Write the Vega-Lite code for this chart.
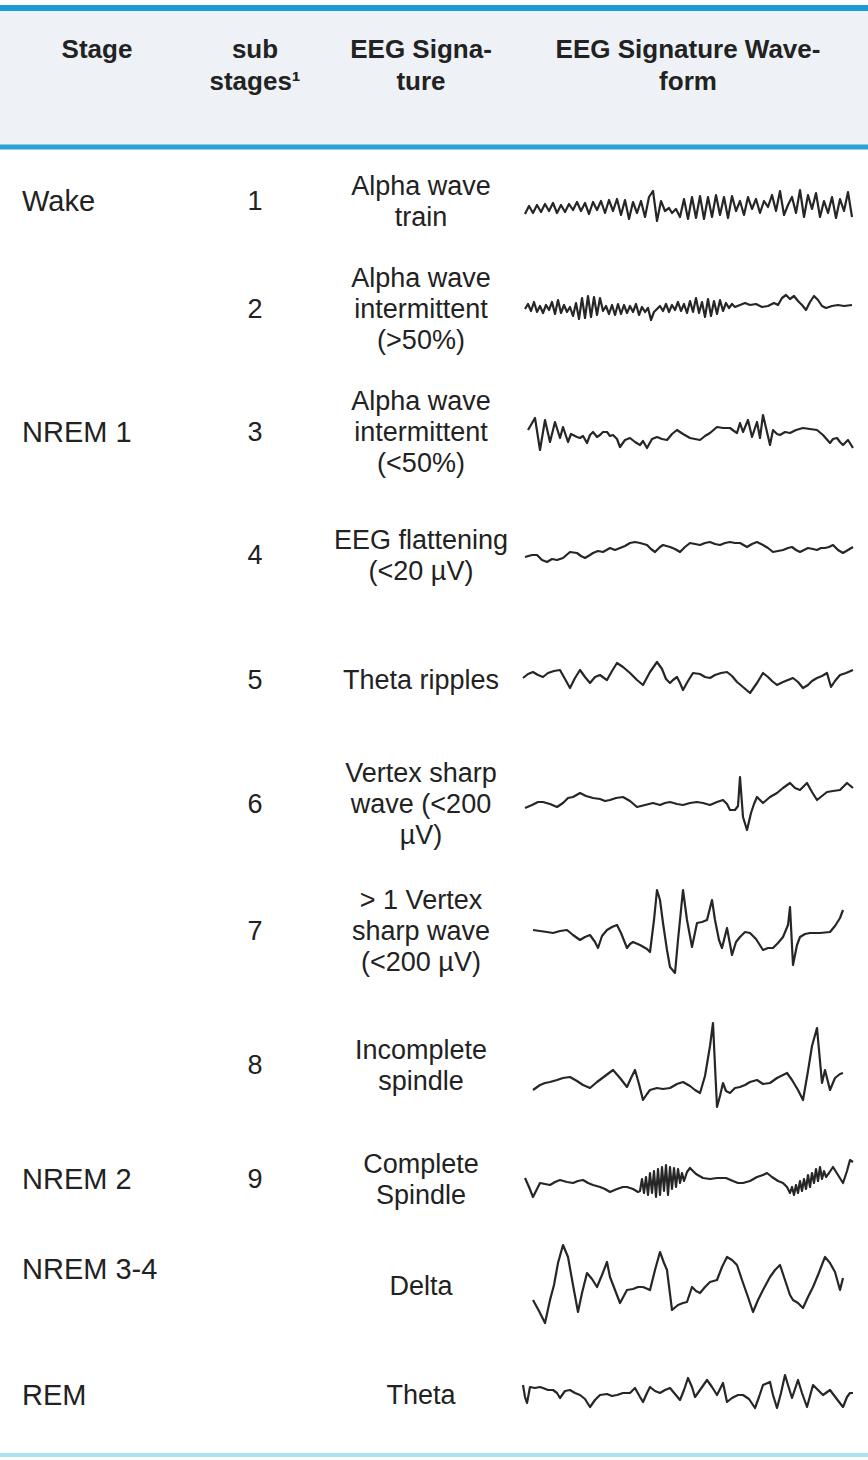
{
"$schema":"https://vega.github.io/schema/vega-lite/v6.json",
"width":868,"height":1460,"autosize":{"type":"none"},"padding":0,"background":"white",
"config":{"view":{"stroke":null},"text":{"font":"Liberation Sans","color":"#222222"}},
"resolve":{"scale":{"x":"independent","y":"independent"}},
"datasets":{
"band":[{"top":-3,"bottom":-1}],
"lines":[{"kind":"top","row":-3},{"kind":"head","row":-1},{"kind":"bottom","row":12}],
"cells":[
{"part":"head","col":0,"row":-2,"text":["Stage"]},
{"part":"head","col":1,"row":-2,"text":["sub","stages¹"]},
{"part":"head","col":2,"row":-2,"text":["EEG Signa-","ture"]},
{"part":"head","col":3,"row":-2,"text":["EEG Signature Wave-","form"]},
{"part":"stage","col":0,"row":1,"text":["Wake"]},
{"part":"stage","col":0,"row":3,"text":["NREM 1"]},
{"part":"stage","col":0,"row":9,"text":["NREM 2"]},
{"part":"stage2","col":0,"row":10,"text":["NREM 3-4"]},
{"part":"stage","col":0,"row":11,"text":["REM"]},
{"part":"sub","col":1,"row":1,"text":["1"]},
{"part":"sub","col":1,"row":2,"text":["2"]},
{"part":"sub","col":1,"row":3,"text":["3"]},
{"part":"sub","col":1,"row":4,"text":["4"]},
{"part":"sub","col":1,"row":5,"text":["5"]},
{"part":"sub","col":1,"row":6,"text":["6"]},
{"part":"sub","col":1,"row":7,"text":["7"]},
{"part":"sub","col":1,"row":8,"text":["8"]},
{"part":"sub","col":1,"row":9,"text":["9"]},
{"part":"sig","col":2,"row":1,"text":["Alpha wave","train"]},
{"part":"sig","col":2,"row":2,"text":["Alpha wave","intermittent","(>50%)"]},
{"part":"sig","col":2,"row":3,"text":["Alpha wave","intermittent","(<50%)"]},
{"part":"sig","col":2,"row":4,"text":["EEG flattening","(<20 µV)"]},
{"part":"sig","col":2,"row":5,"text":["Theta ripples"]},
{"part":"sig","col":2,"row":6,"text":["Vertex sharp","wave (<200","µV)"]},
{"part":"sig","col":2,"row":7,"text":["> 1 Vertex","sharp wave","(<200 µV)"]},
{"part":"sig","col":2,"row":8,"text":["Incomplete","spindle"]},
{"part":"sig","col":2,"row":9,"text":["Complete","Spindle"]},
{"part":"sig","col":2,"row":10,"text":["Delta"]},
{"part":"sig","col":2,"row":11,"text":["Theta"]}
],
"wave":[
{"w":1,"t":5,"v":-9},{"w":1,"t":9,"v":-1},{"w":1,"t":13,"v":-8},{"w":1,"t":17,"v":0},{"w":1,"t":21,"v":-7},{"w":1,"t":25,"v":1},{"w":1,"t":29,"v":-6},{"w":1,"t":33,"v":2},{"w":1,"t":37,"v":-8},{"w":1,"t":41,"v":0},{"w":1,"t":45,"v":-7},{"w":1,"t":49,"v":1},{"w":1,"t":53,"v":-5},{"w":1,"t":57,"v":3},{"w":1,"t":61,"v":-6},{"w":1,"t":65,"v":2},{"w":1,"t":69,"v":-9},{"w":1,"t":73,"v":3},{"w":1,"t":77,"v":-5},{"w":1,"t":81,"v":4},{"w":1,"t":85,"v":-8},{"w":1,"t":89,"v":5},{"w":1,"t":93,"v":-6},{"w":1,"t":97,"v":6},{"w":1,"t":101,"v":-10},{"w":1,"t":105,"v":5},{"w":1,"t":109,"v":-14},{"w":1,"t":113,"v":3},{"w":1,"t":117,"v":-8},{"w":1,"t":121,"v":4},{"w":1,"t":125,"v":-12},{"w":1,"t":129,"v":8},{"w":1,"t":133,"v":14},{"w":1,"t":137,"v":-16},{"w":1,"t":141,"v":4},{"w":1,"t":145,"v":-6},{"w":1,"t":149,"v":-3},{"w":1,"t":152,"v":-8},{"w":1,"t":156,"v":-4},{"w":1,"t":160,"v":-12},{"w":1,"t":164,"v":6},{"w":1,"t":168,"v":-14},{"w":1,"t":172,"v":8},{"w":1,"t":176,"v":-13},{"w":1,"t":180,"v":9},{"w":1,"t":184,"v":-14},{"w":1,"t":188,"v":8},{"w":1,"t":192,"v":-12},{"w":1,"t":196,"v":10},{"w":1,"t":200,"v":-10},{"w":1,"t":204,"v":8},{"w":1,"t":208,"v":-13},{"w":1,"t":212,"v":9},{"w":1,"t":216,"v":-6},{"w":1,"t":220,"v":4},{"w":1,"t":224,"v":-10},{"w":1,"t":228,"v":8},{"w":1,"t":232,"v":-4},{"w":1,"t":236,"v":6},{"w":1,"t":240,"v":-8},{"w":1,"t":244,"v":4},{"w":1,"t":248,"v":-2},{"w":1,"t":252,"v":10},{"w":1,"t":256,"v":-6},{"w":1,"t":260,"v":14},{"w":1,"t":264,"v":-10},{"w":1,"t":268,"v":0},{"w":1,"t":272,"v":8},{"w":1,"t":276,"v":-8},{"w":1,"t":280,"v":15},{"w":1,"t":284,"v":-12},{"w":1,"t":288,"v":10},{"w":1,"t":292,"v":-4},{"w":1,"t":296,"v":12},{"w":1,"t":300,"v":-12},{"w":1,"t":304,"v":4},{"w":1,"t":308,"v":-8},{"w":1,"t":312,"v":8},{"w":1,"t":316,"v":-13},{"w":1,"t":320,"v":6},{"w":1,"t":324,"v":-6},{"w":1,"t":328,"v":13},{"w":1,"t":332,"v":-12},
{"w":2,"t":5,"v":-1},{"w":2,"t":8,"v":4},{"w":2,"t":11,"v":-3},{"w":2,"t":14,"v":6},{"w":2,"t":17,"v":-4},{"w":2,"t":20,"v":2},{"w":2,"t":23,"v":-5},{"w":2,"t":26,"v":3},{"w":2,"t":29,"v":-2},{"w":2,"t":32,"v":6},{"w":2,"t":35,"v":-6},{"w":2,"t":38,"v":8},{"w":2,"t":41,"v":-5},{"w":2,"t":44,"v":3},{"w":2,"t":47,"v":-4},{"w":2,"t":50,"v":1},{"w":2,"t":53,"v":-8},{"w":2,"t":56,"v":5},{"w":2,"t":59,"v":-11},{"w":2,"t":62,"v":10},{"w":2,"t":65,"v":-10},{"w":2,"t":68,"v":12},{"w":2,"t":71,"v":-9},{"w":2,"t":74,"v":11},{"w":2,"t":77,"v":-7},{"w":2,"t":80,"v":10},{"w":2,"t":83,"v":-3},{"w":2,"t":86,"v":2},{"w":2,"t":89,"v":-6},{"w":2,"t":92,"v":3},{"w":2,"t":95,"v":-7},{"w":2,"t":98,"v":4},{"w":2,"t":101,"v":-6},{"w":2,"t":104,"v":3},{"w":2,"t":107,"v":-5},{"w":2,"t":110,"v":2},{"w":2,"t":113,"v":-4},{"w":2,"t":116,"v":4},{"w":2,"t":119,"v":-7},{"w":2,"t":122,"v":1},{"w":2,"t":125,"v":-4},{"w":2,"t":128,"v":0},{"w":2,"t":131,"v":-12},{"w":2,"t":134,"v":-4},{"w":2,"t":137,"v":-1},{"w":2,"t":140,"v":2},{"w":2,"t":143,"v":-3},{"w":2,"t":146,"v":4},{"w":2,"t":149,"v":-4},{"w":2,"t":152,"v":3},{"w":2,"t":155,"v":-2},{"w":2,"t":158,"v":6},{"w":2,"t":161,"v":-3},{"w":2,"t":164,"v":4},{"w":2,"t":167,"v":-5},{"w":2,"t":170,"v":7},{"w":2,"t":173,"v":-4},{"w":2,"t":176,"v":10},{"w":2,"t":179,"v":-5},{"w":2,"t":182,"v":6},{"w":2,"t":185,"v":-9},{"w":2,"t":188,"v":9},{"w":2,"t":191,"v":-8},{"w":2,"t":194,"v":7},{"w":2,"t":197,"v":-6},{"w":2,"t":200,"v":8},{"w":2,"t":203,"v":-3},{"w":2,"t":206,"v":5},{"w":2,"t":209,"v":0},{"w":2,"t":212,"v":4},{"w":2,"t":215,"v":1},{"w":2,"t":220,"v":3},{"w":2,"t":225,"v":5},{"w":2,"t":230,"v":3},{"w":2,"t":236,"v":4},{"w":2,"t":242,"v":1},{"w":2,"t":248,"v":2},{"w":2,"t":254,"v":5},{"w":2,"t":258,"v":3},{"w":2,"t":262,"v":10},{"w":2,"t":266,"v":13},{"w":2,"t":270,"v":9},{"w":2,"t":274,"v":12},{"w":2,"t":278,"v":7},{"w":2,"t":282,"v":3},{"w":2,"t":286,"v":-2},{"w":2,"t":290,"v":6},{"w":2,"t":294,"v":12},{"w":2,"t":298,"v":8},{"w":2,"t":302,"v":2},{"w":2,"t":306,"v":0},{"w":2,"t":312,"v":2},{"w":2,"t":318,"v":3},{"w":2,"t":324,"v":2},{"w":2,"t":332,"v":3},
{"w":3,"t":8,"v":3},{"w":3,"t":15,"v":15},{"w":3,"t":20,"v":-17},{"w":3,"t":25,"v":13},{"w":3,"t":30,"v":-9},{"w":3,"t":35,"v":11},{"w":3,"t":40,"v":-5},{"w":3,"t":43,"v":6},{"w":3,"t":48,"v":-9},{"w":3,"t":51,"v":-1},{"w":3,"t":53,"v":-2},{"w":3,"t":57,"v":-4},{"w":3,"t":60,"v":-5},{"w":3,"t":63,"v":-3},{"w":3,"t":67,"v":-10},{"w":3,"t":70,"v":-2},{"w":3,"t":73,"v":1},{"w":3,"t":77,"v":-4},{"w":3,"t":80,"v":-2},{"w":3,"t":83,"v":1},{"w":3,"t":87,"v":1},{"w":3,"t":90,"v":-3},{"w":3,"t":93,"v":-2},{"w":3,"t":97,"v":-6},{"w":3,"t":100,"v":-14},{"w":3,"t":105,"v":-7},{"w":3,"t":110,"v":-5},{"w":3,"t":115,"v":-9},{"w":3,"t":120,"v":-12},{"w":3,"t":123,"v":-8},{"w":3,"t":127,"v":-15},{"w":3,"t":132,"v":-6},{"w":3,"t":137,"v":-4},{"w":3,"t":142,"v":-6},{"w":3,"t":147,"v":-7},{"w":3,"t":152,"v":-1},{"w":3,"t":157,"v":3},{"w":3,"t":163,"v":-1},{"w":3,"t":170,"v":-5},{"w":3,"t":175,"v":-6},{"w":3,"t":180,"v":-7},{"w":3,"t":185,"v":-3},{"w":3,"t":190,"v":0},{"w":3,"t":197,"v":6},{"w":3,"t":203,"v":5},{"w":3,"t":210,"v":5},{"w":3,"t":214,"v":2},{"w":3,"t":217,"v":0},{"w":3,"t":220,"v":10},{"w":3,"t":223,"v":1},{"w":3,"t":228,"v":13},{"w":3,"t":232,"v":-4},{"w":3,"t":237,"v":11},{"w":3,"t":240,"v":-5},{"w":3,"t":243,"v":18},{"w":3,"t":247,"v":1},{"w":3,"t":250,"v":-12},{"w":3,"t":253,"v":3},{"w":3,"t":257,"v":-1},{"w":3,"t":260,"v":-2},{"w":3,"t":265,"v":1},{"w":3,"t":270,"v":0},{"w":3,"t":276,"v":3},{"w":3,"t":283,"v":5},{"w":3,"t":290,"v":4},{"w":3,"t":297,"v":3},{"w":3,"t":303,"v":-2},{"w":3,"t":310,"v":-10},{"w":3,"t":313,"v":-6},{"w":3,"t":317,"v":-5},{"w":3,"t":320,"v":-9},{"w":3,"t":323,"v":-12},{"w":3,"t":328,"v":-7},{"w":3,"t":333,"v":-15},
{"w":4,"t":5,"v":-5},{"w":4,"t":12,"v":-3},{"w":4,"t":17,"v":-3},{"w":4,"t":22,"v":-8},{"w":4,"t":27,"v":-10},{"w":4,"t":32,"v":-7},{"w":4,"t":37,"v":-8},{"w":4,"t":43,"v":-6},{"w":4,"t":50,"v":0},{"w":4,"t":57,"v":-1},{"w":4,"t":61,"v":-4},{"w":4,"t":65,"v":-6},{"w":4,"t":70,"v":-3},{"w":4,"t":73,"v":-1},{"w":4,"t":78,"v":1},{"w":4,"t":83,"v":0},{"w":4,"t":90,"v":4},{"w":4,"t":95,"v":2},{"w":4,"t":100,"v":4},{"w":4,"t":105,"v":6},{"w":4,"t":110,"v":9},{"w":4,"t":115,"v":10},{"w":4,"t":120,"v":9},{"w":4,"t":127,"v":7},{"w":4,"t":131,"v":3},{"w":4,"t":135,"v":0},{"w":4,"t":140,"v":5},{"w":4,"t":143,"v":7},{"w":4,"t":150,"v":5},{"w":4,"t":155,"v":3},{"w":4,"t":160,"v":0},{"w":4,"t":165,"v":5},{"w":4,"t":170,"v":9},{"w":4,"t":175,"v":8},{"w":4,"t":180,"v":7},{"w":4,"t":185,"v":9},{"w":4,"t":190,"v":10},{"w":4,"t":195,"v":8},{"w":4,"t":200,"v":7},{"w":4,"t":205,"v":9},{"w":4,"t":210,"v":10},{"w":4,"t":215,"v":9},{"w":4,"t":220,"v":9},{"w":4,"t":227,"v":5},{"w":4,"t":232,"v":8},{"w":4,"t":237,"v":10},{"w":4,"t":243,"v":7},{"w":4,"t":248,"v":4},{"w":4,"t":253,"v":0},{"w":4,"t":258,"v":1},{"w":4,"t":263,"v":2},{"w":4,"t":268,"v":4},{"w":4,"t":272,"v":5},{"w":4,"t":276,"v":2},{"w":4,"t":280,"v":0},{"w":4,"t":284,"v":2},{"w":4,"t":288,"v":4},{"w":4,"t":293,"v":3},{"w":4,"t":297,"v":2},{"w":4,"t":301,"v":4},{"w":4,"t":305,"v":4},{"w":4,"t":309,"v":5},{"w":4,"t":313,"v":7},{"w":4,"t":318,"v":2},{"w":4,"t":323,"v":-1},{"w":4,"t":328,"v":2},{"w":4,"t":333,"v":5},
{"w":5,"t":3,"v":-1},{"w":5,"t":8,"v":3},{"w":5,"t":13,"v":5},{"w":5,"t":18,"v":2},{"w":5,"t":23,"v":0},{"w":5,"t":28,"v":4},{"w":5,"t":34,"v":6},{"w":5,"t":40,"v":7},{"w":5,"t":45,"v":-2},{"w":5,"t":50,"v":-11},{"w":5,"t":55,"v":-1},{"w":5,"t":60,"v":7},{"w":5,"t":65,"v":0},{"w":5,"t":70,"v":-6},{"w":5,"t":75,"v":0},{"w":5,"t":80,"v":2},{"w":5,"t":84,"v":-1},{"w":5,"t":87,"v":-3},{"w":5,"t":92,"v":6},{"w":5,"t":97,"v":14},{"w":5,"t":103,"v":10},{"w":5,"t":110,"v":4},{"w":5,"t":117,"v":-3},{"w":5,"t":123,"v":-8},{"w":5,"t":130,"v":5},{"w":5,"t":137,"v":15},{"w":5,"t":142,"v":8},{"w":5,"t":146,"v":-2},{"w":5,"t":150,"v":-6},{"w":5,"t":153,"v":-3},{"w":5,"t":157,"v":0},{"w":5,"t":160,"v":-6},{"w":5,"t":163,"v":-13},{"w":5,"t":168,"v":-4},{"w":5,"t":173,"v":4},{"w":5,"t":180,"v":3},{"w":5,"t":185,"v":0},{"w":5,"t":190,"v":-1},{"w":5,"t":195,"v":2},{"w":5,"t":201,"v":4},{"w":5,"t":207,"v":5},{"w":5,"t":212,"v":1},{"w":5,"t":217,"v":-5},{"w":5,"t":223,"v":-10},{"w":5,"t":230,"v":-16},{"w":5,"t":237,"v":-6},{"w":5,"t":243,"v":4},{"w":5,"t":248,"v":0},{"w":5,"t":252,"v":-4},{"w":5,"t":257,"v":-8},{"w":5,"t":263,"v":-5},{"w":5,"t":268,"v":-3},{"w":5,"t":273,"v":-1},{"w":5,"t":278,"v":-5},{"w":5,"t":283,"v":-11},{"w":5,"t":288,"v":-8},{"w":5,"t":292,"v":-4},{"w":5,"t":297,"v":-1},{"w":5,"t":302,"v":1},{"w":5,"t":307,"v":4},{"w":5,"t":311,"v":-10},{"w":5,"t":315,"v":-4},{"w":5,"t":320,"v":2},{"w":5,"t":326,"v":4},{"w":5,"t":333,"v":7},
{"w":6,"t":5,"v":-8},{"w":6,"t":12,"v":-5},{"w":6,"t":18,"v":-2},{"w":6,"t":23,"v":-2},{"w":6,"t":30,"v":-4},{"w":6,"t":37,"v":-7},{"w":6,"t":43,"v":-3},{"w":6,"t":48,"v":2},{"w":6,"t":53,"v":3},{"w":6,"t":60,"v":7},{"w":6,"t":66,"v":4},{"w":6,"t":73,"v":2},{"w":6,"t":80,"v":1},{"w":6,"t":85,"v":-1},{"w":6,"t":90,"v":0},{"w":6,"t":96,"v":2},{"w":6,"t":103,"v":3},{"w":6,"t":110,"v":-1},{"w":6,"t":117,"v":-7},{"w":6,"t":125,"v":-5},{"w":6,"t":133,"v":-3},{"w":6,"t":140,"v":-5},{"w":6,"t":145,"v":-3},{"w":6,"t":150,"v":-2},{"w":6,"t":157,"v":-4},{"w":6,"t":163,"v":-5},{"w":6,"t":170,"v":-3},{"w":6,"t":177,"v":-2},{"w":6,"t":183,"v":-3},{"w":6,"t":190,"v":-5},{"w":6,"t":197,"v":-2},{"w":6,"t":203,"v":0},{"w":6,"t":207,"v":-4},{"w":6,"t":210,"v":-10},{"w":6,"t":215,"v":-10},{"w":6,"t":218,"v":-6},{"w":6,"t":220,"v":23},{"w":6,"t":223,"v":-17},{"w":6,"t":227,"v":-30},{"w":6,"t":231,"v":-13},{"w":6,"t":234,"v":-4},{"w":6,"t":237,"v":3},{"w":6,"t":243,"v":-3},{"w":6,"t":250,"v":3},{"w":6,"t":257,"v":7},{"w":6,"t":263,"v":12},{"w":6,"t":270,"v":17},{"w":6,"t":275,"v":12},{"w":6,"t":280,"v":10},{"w":6,"t":287,"v":17},{"w":6,"t":292,"v":8},{"w":6,"t":297,"v":0},{"w":6,"t":302,"v":4},{"w":6,"t":307,"v":8},{"w":6,"t":313,"v":9},{"w":6,"t":320,"v":10},{"w":6,"t":327,"v":17},{"w":6,"t":333,"v":12},
{"w":7,"t":13,"v":0},{"w":7,"t":20,"v":-1},{"w":7,"t":27,"v":-2},{"w":7,"t":33,"v":-3},{"w":7,"t":40,"v":-1},{"w":7,"t":47,"v":0},{"w":7,"t":53,"v":-5},{"w":7,"t":60,"v":-10},{"w":7,"t":65,"v":-7},{"w":7,"t":70,"v":-5},{"w":7,"t":75,"v":-12},{"w":7,"t":78,"v":-18},{"w":7,"t":82,"v":-6},{"w":7,"t":87,"v":0},{"w":7,"t":92,"v":3},{"w":7,"t":97,"v":5},{"w":7,"t":101,"v":-3},{"w":7,"t":107,"v":-18},{"w":7,"t":110,"v":-14},{"w":7,"t":113,"v":-12},{"w":7,"t":120,"v":-15},{"w":7,"t":127,"v":-19},{"w":7,"t":130,"v":-22},{"w":7,"t":134,"v":10},{"w":7,"t":137,"v":40},{"w":7,"t":140,"v":30},{"w":7,"t":143,"v":7},{"w":7,"t":147,"v":-20},{"w":7,"t":150,"v":-37},{"w":7,"t":155,"v":-43},{"w":7,"t":158,"v":-10},{"w":7,"t":163,"v":40},{"w":7,"t":167,"v":10},{"w":7,"t":172,"v":-17},{"w":7,"t":177,"v":7},{"w":7,"t":182,"v":8},{"w":7,"t":187,"v":10},{"w":7,"t":192,"v":30},{"w":7,"t":195,"v":10},{"w":7,"t":199,"v":-10},{"w":7,"t":202,"v":-18},{"w":7,"t":207,"v":2},{"w":7,"t":212,"v":-25},{"w":7,"t":216,"v":-12},{"w":7,"t":220,"v":-7},{"w":7,"t":225,"v":-2},{"w":7,"t":230,"v":-3},{"w":7,"t":236,"v":-9},{"w":7,"t":243,"v":-20},{"w":7,"t":248,"v":-18},{"w":7,"t":253,"v":-18},{"w":7,"t":258,"v":-13},{"w":7,"t":263,"v":-7},{"w":7,"t":268,"v":5},{"w":7,"t":270,"v":23},{"w":7,"t":273,"v":-35},{"w":7,"t":277,"v":-15},{"w":7,"t":280,"v":-7},{"w":7,"t":285,"v":-4},{"w":7,"t":290,"v":-3},{"w":7,"t":300,"v":-3},{"w":7,"t":310,"v":-2},{"w":7,"t":315,"v":4},{"w":7,"t":320,"v":12},{"w":7,"t":323,"v":20},
{"w":8,"t":13,"v":-24},{"w":8,"t":20,"v":-19},{"w":8,"t":25,"v":-17},{"w":8,"t":30,"v":-16},{"w":8,"t":37,"v":-14},{"w":8,"t":43,"v":-12},{"w":8,"t":50,"v":-11},{"w":8,"t":57,"v":-15},{"w":8,"t":63,"v":-19},{"w":8,"t":70,"v":-22},{"w":8,"t":77,"v":-16},{"w":8,"t":85,"v":-10},{"w":8,"t":93,"v":-4},{"w":8,"t":100,"v":-12},{"w":8,"t":107,"v":-21},{"w":8,"t":111,"v":-12},{"w":8,"t":115,"v":-4},{"w":8,"t":119,"v":-18},{"w":8,"t":123,"v":-34},{"w":8,"t":127,"v":-28},{"w":8,"t":130,"v":-24},{"w":8,"t":137,"v":-22},{"w":8,"t":143,"v":-23},{"w":8,"t":150,"v":-22},{"w":8,"t":157,"v":-18},{"w":8,"t":163,"v":-16},{"w":8,"t":170,"v":-20},{"w":8,"t":175,"v":-24},{"w":8,"t":180,"v":-27},{"w":8,"t":185,"v":-10},{"w":8,"t":190,"v":20},{"w":8,"t":193,"v":43},{"w":8,"t":195,"v":0},{"w":8,"t":197,"v":-41},{"w":8,"t":200,"v":-30},{"w":8,"t":203,"v":-17},{"w":8,"t":206,"v":-25},{"w":8,"t":210,"v":-27},{"w":8,"t":215,"v":-22},{"w":8,"t":220,"v":-21},{"w":8,"t":225,"v":-19},{"w":8,"t":230,"v":-16},{"w":8,"t":237,"v":-14},{"w":8,"t":243,"v":-18},{"w":8,"t":250,"v":-17},{"w":8,"t":257,"v":-12},{"w":8,"t":263,"v":-9},{"w":8,"t":267,"v":-7},{"w":8,"t":272,"v":-14},{"w":8,"t":278,"v":-24},{"w":8,"t":283,"v":-34},{"w":8,"t":288,"v":-5},{"w":8,"t":292,"v":20},{"w":8,"t":297,"v":38},{"w":8,"t":300,"v":5},{"w":8,"t":302,"v":-17},{"w":8,"t":305,"v":-4},{"w":8,"t":310,"v":-24},{"w":8,"t":315,"v":-12},{"w":8,"t":320,"v":-8},{"w":8,"t":323,"v":-7},
{"w":9,"t":5,"v":-1},{"w":9,"t":9,"v":-10},{"w":9,"t":13,"v":-20},{"w":9,"t":17,"v":-12},{"w":9,"t":20,"v":-6},{"w":9,"t":25,"v":-7},{"w":9,"t":30,"v":-8},{"w":9,"t":35,"v":-5},{"w":9,"t":40,"v":-3},{"w":9,"t":47,"v":-5},{"w":9,"t":53,"v":-6},{"w":9,"t":58,"v":-4},{"w":9,"t":63,"v":-3},{"w":9,"t":68,"v":-6},{"w":9,"t":73,"v":-8},{"w":9,"t":80,"v":-10},{"w":9,"t":85,"v":-12},{"w":9,"t":90,"v":-15},{"w":9,"t":97,"v":-12},{"w":9,"t":103,"v":-10},{"w":9,"t":107,"v":-10},{"w":9,"t":113,"v":-12},{"w":9,"t":118,"v":-15},{"w":9,"t":120,"v":-14},{"w":9,"t":122,"v":-2},{"w":9,"t":124,"v":-16},{"w":9,"t":126,"v":0},{"w":9,"t":128,"v":-18},{"w":9,"t":130,"v":4},{"w":9,"t":132,"v":-16},{"w":9,"t":134,"v":6},{"w":9,"t":136,"v":-20},{"w":9,"t":138,"v":8},{"w":9,"t":140,"v":-18},{"w":9,"t":142,"v":10},{"w":9,"t":144,"v":-14},{"w":9,"t":146,"v":12},{"w":9,"t":148,"v":-18},{"w":9,"t":150,"v":10},{"w":9,"t":152,"v":-12},{"w":9,"t":154,"v":9},{"w":9,"t":156,"v":-10},{"w":9,"t":158,"v":8},{"w":9,"t":160,"v":-6},{"w":9,"t":162,"v":4},{"w":9,"t":164,"v":-4},{"w":9,"t":167,"v":5},{"w":9,"t":170,"v":9},{"w":9,"t":176,"v":3},{"w":9,"t":183,"v":-1},{"w":9,"t":190,"v":-2},{"w":9,"t":197,"v":-1},{"w":9,"t":206,"v":-1},{"w":9,"t":213,"v":-4},{"w":9,"t":218,"v":-6},{"w":9,"t":223,"v":-6},{"w":9,"t":230,"v":-4},{"w":9,"t":237,"v":0},{"w":9,"t":243,"v":2},{"w":9,"t":247,"v":4},{"w":9,"t":252,"v":0},{"w":9,"t":258,"v":-4},{"w":9,"t":263,"v":-6},{"w":9,"t":267,"v":-10},{"w":9,"t":270,"v":-16},{"w":9,"t":272,"v":-10},{"w":9,"t":274,"v":-18},{"w":9,"t":276,"v":-8},{"w":9,"t":278,"v":-16},{"w":9,"t":280,"v":-4},{"w":9,"t":282,"v":-14},{"w":9,"t":284,"v":-2},{"w":9,"t":286,"v":-12},{"w":9,"t":288,"v":2},{"w":9,"t":290,"v":-10},{"w":9,"t":292,"v":4},{"w":9,"t":294,"v":-6},{"w":9,"t":296,"v":8},{"w":9,"t":298,"v":-4},{"w":9,"t":300,"v":10},{"w":9,"t":302,"v":-2},{"w":9,"t":304,"v":6},{"w":9,"t":306,"v":0},{"w":9,"t":309,"v":4},{"w":9,"t":313,"v":10},{"w":9,"t":318,"v":2},{"w":9,"t":323,"v":-6},{"w":9,"t":327,"v":6},{"w":9,"t":330,"v":17},{"w":9,"t":333,"v":15},
{"w":10,"t":13,"v":-15},{"w":10,"t":19,"v":-26},{"w":10,"t":25,"v":-38},{"w":10,"t":30,"v":-15},{"w":10,"t":34,"v":0},{"w":10,"t":38,"v":22},{"w":10,"t":43,"v":40},{"w":10,"t":48,"v":28},{"w":10,"t":53,"v":0},{"w":10,"t":58,"v":-27},{"w":10,"t":62,"v":-8},{"w":10,"t":67,"v":12},{"w":10,"t":72,"v":6},{"w":10,"t":77,"v":-2},{"w":10,"t":82,"v":10},{"w":10,"t":87,"v":23},{"w":10,"t":90,"v":8},{"w":10,"t":95,"v":-5},{"w":10,"t":100,"v":-18},{"w":10,"t":107,"v":-5},{"w":10,"t":113,"v":-4},{"w":10,"t":118,"v":-2},{"w":10,"t":123,"v":-2},{"w":10,"t":130,"v":-5},{"w":10,"t":135,"v":15},{"w":10,"t":140,"v":33},{"w":10,"t":144,"v":22},{"w":10,"t":147,"v":15},{"w":10,"t":152,"v":-25},{"w":10,"t":158,"v":-20},{"w":10,"t":163,"v":-18},{"w":10,"t":167,"v":-17},{"w":10,"t":172,"v":-2},{"w":10,"t":176,"v":-6},{"w":10,"t":180,"v":-8},{"w":10,"t":185,"v":-2},{"w":10,"t":190,"v":3},{"w":10,"t":197,"v":5},{"w":10,"t":202,"v":18},{"w":10,"t":207,"v":28},{"w":10,"t":212,"v":25},{"w":10,"t":217,"v":20},{"w":10,"t":222,"v":5},{"w":10,"t":228,"v":-12},{"w":10,"t":233,"v":-27},{"w":10,"t":238,"v":-15},{"w":10,"t":243,"v":-5},{"w":10,"t":250,"v":8},{"w":10,"t":255,"v":15},{"w":10,"t":260,"v":20},{"w":10,"t":265,"v":5},{"w":10,"t":270,"v":-10},{"w":10,"t":273,"v":-15},{"w":10,"t":278,"v":-18},{"w":10,"t":283,"v":-23},{"w":10,"t":288,"v":-12},{"w":10,"t":293,"v":-2},{"w":10,"t":298,"v":10},{"w":10,"t":305,"v":28},{"w":10,"t":310,"v":22},{"w":10,"t":315,"v":13},{"w":10,"t":320,"v":-5},{"w":10,"t":323,"v":7},
{"w":11,"t":3,"v":10},{"w":11,"t":5,"v":-2},{"w":11,"t":7,"v":-8},{"w":11,"t":10,"v":8},{"w":11,"t":15,"v":7},{"w":11,"t":20,"v":8},{"w":11,"t":23,"v":7},{"w":11,"t":28,"v":5},{"w":11,"t":33,"v":5},{"w":11,"t":37,"v":2},{"w":11,"t":40,"v":-3},{"w":11,"t":45,"v":4},{"w":11,"t":50,"v":5},{"w":11,"t":55,"v":2},{"w":11,"t":60,"v":0},{"w":11,"t":65,"v":-4},{"w":11,"t":70,"v":-12},{"w":11,"t":75,"v":-5},{"w":11,"t":80,"v":0},{"w":11,"t":87,"v":1},{"w":11,"t":92,"v":-1},{"w":11,"t":97,"v":0},{"w":11,"t":103,"v":2},{"w":11,"t":110,"v":2},{"w":11,"t":115,"v":7},{"w":11,"t":120,"v":-2},{"w":11,"t":123,"v":-7},{"w":11,"t":127,"v":2},{"w":11,"t":130,"v":8},{"w":11,"t":135,"v":4},{"w":11,"t":140,"v":2},{"w":11,"t":145,"v":5},{"w":11,"t":150,"v":7},{"w":11,"t":155,"v":1},{"w":11,"t":160,"v":-5},{"w":11,"t":164,"v":5},{"w":11,"t":168,"v":17},{"w":11,"t":172,"v":8},{"w":11,"t":175,"v":-2},{"w":11,"t":180,"v":5},{"w":11,"t":187,"v":15},{"w":11,"t":192,"v":8},{"w":11,"t":197,"v":0},{"w":11,"t":200,"v":6},{"w":11,"t":203,"v":12},{"w":11,"t":207,"v":-7},{"w":11,"t":212,"v":-3},{"w":11,"t":218,"v":0},{"w":11,"t":223,"v":0},{"w":11,"t":229,"v":-4},{"w":11,"t":235,"v":-13},{"w":11,"t":239,"v":-2},{"w":11,"t":243,"v":10},{"w":11,"t":250,"v":13},{"w":11,"t":253,"v":0},{"w":11,"t":257,"v":-13},{"w":11,"t":261,"v":2},{"w":11,"t":265,"v":20},{"w":11,"t":268,"v":10},{"w":11,"t":272,"v":-3},{"w":11,"t":278,"v":15},{"w":11,"t":282,"v":2},{"w":11,"t":287,"v":-12},{"w":11,"t":293,"v":10},{"w":11,"t":298,"v":5},{"w":11,"t":303,"v":0},{"w":11,"t":310,"v":5},{"w":11,"t":316,"v":-3},{"w":11,"t":323,"v":-12},{"w":11,"t":327,"v":-2},{"w":11,"t":330,"v":2},{"w":11,"t":333,"v":2}
]},
"layer":[
{"data":{"name":"band"},"mark":{"type":"rect","color":"#eef2f6"},
 "encoding":{"y":{"field":"top","type":"quantitative","axis":null,"scale":{"domain":[-4,-3,-2,-1,1,2,3,4,5,6,7,8,9,10,11,12,13],"range":[0,8,37,147,202,310,433,556,681,805,932,1066,1180,1287,1396,1455,1460],"nice":false,"zero":false}},"y2":{"field":"bottom"}}},
{"data":{"name":"lines"},"transform":[{"filter":"datum.kind=='top'"}],"mark":{"type":"rule","color":"#1b9bd3","strokeWidth":6},
 "encoding":{"y":{"field":"row","type":"quantitative","axis":null,"scale":{"domain":[-4,-3,-2,-1,1,2,3,4,5,6,7,8,9,10,11,12,13],"range":[0,8,37,147,202,310,433,556,681,805,932,1066,1180,1287,1396,1455,1460],"nice":false,"zero":false}}}},
{"data":{"name":"lines"},"transform":[{"filter":"datum.kind=='head'"}],"mark":{"type":"rule","color":"#2aa3d6","strokeWidth":5},
 "encoding":{"y":{"field":"row","type":"quantitative","axis":null,"scale":{"domain":[-4,-3,-2,-1,1,2,3,4,5,6,7,8,9,10,11,12,13],"range":[0,8,37,147,202,310,433,556,681,805,932,1066,1180,1287,1396,1455,1460],"nice":false,"zero":false}}}},
{"data":{"name":"lines"},"transform":[{"filter":"datum.kind=='bottom'"}],"mark":{"type":"rule","color":"#a6e4f4","strokeWidth":4},
 "encoding":{"y":{"field":"row","type":"quantitative","axis":null,"scale":{"domain":[-4,-3,-2,-1,1,2,3,4,5,6,7,8,9,10,11,12,13],"range":[0,8,37,147,202,310,433,556,681,805,932,1066,1180,1287,1396,1455,1460],"nice":false,"zero":false}}}},
{"data":{"name":"cells"},"transform":[{"filter":"datum.part=='head'"}],
 "mark":{"type":"text","fontWeight":"bold","fontSize":26,"align":"center","baseline":"top","lineHeight":32},
 "encoding":{"x":{"field":"col","type":"quantitative","axis":null,"scale":{"domain":[0,1,2,3],"range":[97,255,421,688],"nice":false,"zero":false}},
  "y":{"field":"row","type":"quantitative","axis":null,"scale":{"domain":[-4,-3,-2,-1,1,2,3,4,5,6,7,8,9,10,11,12,13],"range":[0,8,37,147,202,310,433,556,681,805,932,1066,1180,1287,1396,1455,1460],"nice":false,"zero":false}},
  "text":{"field":"text"}}},
{"data":{"name":"cells"},"transform":[{"filter":"datum.part=='stage'"}],
 "mark":{"type":"text","fontSize":29,"align":"left","baseline":"middle"},
 "encoding":{"x":{"field":"col","type":"quantitative","axis":null,"scale":{"domain":[0,1,2],"range":[22,255,421],"nice":false,"zero":false}},
  "y":{"field":"row","type":"quantitative","axis":null,"scale":{"domain":[-4,-3,-2,-1,1,2,3,4,5,6,7,8,9,10,11,12,13],"range":[0,8,37,147,202,310,433,556,681,805,932,1066,1180,1287,1396,1455,1460],"nice":false,"zero":false}},
  "text":{"field":"text"}}},
{"data":{"name":"cells"},"transform":[{"filter":"datum.part=='stage2'"}],
 "mark":{"type":"text","fontSize":29,"align":"left","baseline":"middle","dy":-17},
 "encoding":{"x":{"field":"col","type":"quantitative","axis":null,"scale":{"domain":[0,1,2],"range":[22,255,421],"nice":false,"zero":false}},
  "y":{"field":"row","type":"quantitative","axis":null,"scale":{"domain":[-4,-3,-2,-1,1,2,3,4,5,6,7,8,9,10,11,12,13],"range":[0,8,37,147,202,310,433,556,681,805,932,1066,1180,1287,1396,1455,1460],"nice":false,"zero":false}},
  "text":{"field":"text"}}},
{"data":{"name":"cells"},"transform":[{"filter":"datum.part=='sub'"}],
 "mark":{"type":"text","fontSize":27,"align":"center","baseline":"middle"},
 "encoding":{"x":{"field":"col","type":"quantitative","axis":null,"scale":{"domain":[0,1,2],"range":[22,255,421],"nice":false,"zero":false}},
  "y":{"field":"row","type":"quantitative","axis":null,"scale":{"domain":[-4,-3,-2,-1,1,2,3,4,5,6,7,8,9,10,11,12,13],"range":[0,8,37,147,202,310,433,556,681,805,932,1066,1180,1287,1396,1455,1460],"nice":false,"zero":false}},
  "text":{"field":"text"}}},
{"data":{"name":"cells"},"transform":[{"filter":"datum.part=='sig' && length(datum.text)==1"}],
 "mark":{"type":"text","fontSize":27,"align":"center","baseline":"middle","lineHeight":31},
 "encoding":{"x":{"field":"col","type":"quantitative","axis":null,"scale":{"domain":[0,1,2],"range":[22,255,421],"nice":false,"zero":false}},
  "y":{"field":"row","type":"quantitative","axis":null,"scale":{"domain":[-4,-3,-2,-1,1,2,3,4,5,6,7,8,9,10,11,12,13],"range":[0,8,37,147,202,310,433,556,681,805,932,1066,1180,1287,1396,1455,1460],"nice":false,"zero":false}},
  "text":{"field":"text"}}},
{"data":{"name":"cells"},"transform":[{"filter":"datum.part=='sig' && length(datum.text)==2"}],
 "mark":{"type":"text","fontSize":27,"align":"center","baseline":"middle","lineHeight":31,"dy":-15.5},
 "encoding":{"x":{"field":"col","type":"quantitative","axis":null,"scale":{"domain":[0,1,2],"range":[22,255,421],"nice":false,"zero":false}},
  "y":{"field":"row","type":"quantitative","axis":null,"scale":{"domain":[-4,-3,-2,-1,1,2,3,4,5,6,7,8,9,10,11,12,13],"range":[0,8,37,147,202,310,433,556,681,805,932,1066,1180,1287,1396,1455,1460],"nice":false,"zero":false}},
  "text":{"field":"text"}}},
{"data":{"name":"cells"},"transform":[{"filter":"datum.part=='sig' && length(datum.text)==3"}],
 "mark":{"type":"text","fontSize":27,"align":"center","baseline":"middle","lineHeight":31,"dy":-31},
 "encoding":{"x":{"field":"col","type":"quantitative","axis":null,"scale":{"domain":[0,1,2],"range":[22,255,421],"nice":false,"zero":false}},
  "y":{"field":"row","type":"quantitative","axis":null,"scale":{"domain":[-4,-3,-2,-1,1,2,3,4,5,6,7,8,9,10,11,12,13],"range":[0,8,37,147,202,310,433,556,681,805,932,1066,1180,1287,1396,1455,1460],"nice":false,"zero":false}},
  "text":{"field":"text"}}},
{"data":{"name":"wave"},"transform":[{"filter":"datum.w==1"}],"mark":{"type":"line","color":"#262626","strokeWidth":2.2,"strokeJoin":"round"},
 "encoding":{"x":{"field":"t","type":"quantitative","axis":null,"scale":{"domain":[0,338],"range":[520,858],"nice":false,"zero":false}},"y":{"field":"v","type":"quantitative","axis":null,"scale":{"domain":[-50,50],"range":[255,155],"nice":false,"zero":false}}}},
{"data":{"name":"wave"},"transform":[{"filter":"datum.w==2"}],"mark":{"type":"line","color":"#262626","strokeWidth":2.2,"strokeJoin":"round"},
 "encoding":{"x":{"field":"t","type":"quantitative","axis":null,"scale":{"domain":[0,338],"range":[520,858],"nice":false,"zero":false}},"y":{"field":"v","type":"quantitative","axis":null,"scale":{"domain":[-50,50],"range":[358,258],"nice":false,"zero":false}}}},
{"data":{"name":"wave"},"transform":[{"filter":"datum.w==3"}],"mark":{"type":"line","color":"#262626","strokeWidth":2.2,"strokeJoin":"round"},
 "encoding":{"x":{"field":"t","type":"quantitative","axis":null,"scale":{"domain":[0,338],"range":[520,858],"nice":false,"zero":false}},"y":{"field":"v","type":"quantitative","axis":null,"scale":{"domain":[-50,50],"range":[483,383],"nice":false,"zero":false}}}},
{"data":{"name":"wave"},"transform":[{"filter":"datum.w==4"}],"mark":{"type":"line","color":"#262626","strokeWidth":2.2,"strokeJoin":"round"},
 "encoding":{"x":{"field":"t","type":"quantitative","axis":null,"scale":{"domain":[0,338],"range":[520,858],"nice":false,"zero":false}},"y":{"field":"v","type":"quantitative","axis":null,"scale":{"domain":[-50,50],"range":[602,502],"nice":false,"zero":false}}}},
{"data":{"name":"wave"},"transform":[{"filter":"datum.w==5"}],"mark":{"type":"line","color":"#262626","strokeWidth":2.2,"strokeJoin":"round"},
 "encoding":{"x":{"field":"t","type":"quantitative","axis":null,"scale":{"domain":[0,338],"range":[520,858],"nice":false,"zero":false}},"y":{"field":"v","type":"quantitative","axis":null,"scale":{"domain":[-50,50],"range":[727,627],"nice":false,"zero":false}}}},
{"data":{"name":"wave"},"transform":[{"filter":"datum.w==6"}],"mark":{"type":"line","color":"#262626","strokeWidth":2.2,"strokeJoin":"round"},
 "encoding":{"x":{"field":"t","type":"quantitative","axis":null,"scale":{"domain":[0,338],"range":[520,858],"nice":false,"zero":false}},"y":{"field":"v","type":"quantitative","axis":null,"scale":{"domain":[-50,50],"range":[850,750],"nice":false,"zero":false}}}},
{"data":{"name":"wave"},"transform":[{"filter":"datum.w==7"}],"mark":{"type":"line","color":"#262626","strokeWidth":2.2,"strokeJoin":"round"},
 "encoding":{"x":{"field":"t","type":"quantitative","axis":null,"scale":{"domain":[0,338],"range":[520,858],"nice":false,"zero":false}},"y":{"field":"v","type":"quantitative","axis":null,"scale":{"domain":[-50,50],"range":[980,880],"nice":false,"zero":false}}}},
{"data":{"name":"wave"},"transform":[{"filter":"datum.w==8"}],"mark":{"type":"line","color":"#262626","strokeWidth":2.2,"strokeJoin":"round"},
 "encoding":{"x":{"field":"t","type":"quantitative","axis":null,"scale":{"domain":[0,338],"range":[520,858],"nice":false,"zero":false}},"y":{"field":"v","type":"quantitative","axis":null,"scale":{"domain":[-50,50],"range":[1116,1016],"nice":false,"zero":false}}}},
{"data":{"name":"wave"},"transform":[{"filter":"datum.w==9"}],"mark":{"type":"line","color":"#262626","strokeWidth":2.2,"strokeJoin":"round"},
 "encoding":{"x":{"field":"t","type":"quantitative","axis":null,"scale":{"domain":[0,338],"range":[520,858],"nice":false,"zero":false}},"y":{"field":"v","type":"quantitative","axis":null,"scale":{"domain":[-50,50],"range":[1227,1127],"nice":false,"zero":false}}}},
{"data":{"name":"wave"},"transform":[{"filter":"datum.w==10"}],"mark":{"type":"line","color":"#262626","strokeWidth":2.2,"strokeJoin":"round"},
 "encoding":{"x":{"field":"t","type":"quantitative","axis":null,"scale":{"domain":[0,338],"range":[520,858],"nice":false,"zero":false}},"y":{"field":"v","type":"quantitative","axis":null,"scale":{"domain":[-50,50],"range":[1335,1235],"nice":false,"zero":false}}}},
{"data":{"name":"wave"},"transform":[{"filter":"datum.w==11"}],"mark":{"type":"line","color":"#262626","strokeWidth":2.2,"strokeJoin":"round"},
 "encoding":{"x":{"field":"t","type":"quantitative","axis":null,"scale":{"domain":[0,338],"range":[520,858],"nice":false,"zero":false}},"y":{"field":"v","type":"quantitative","axis":null,"scale":{"domain":[-50,50],"range":[1445,1345],"nice":false,"zero":false}}}}
]
}
